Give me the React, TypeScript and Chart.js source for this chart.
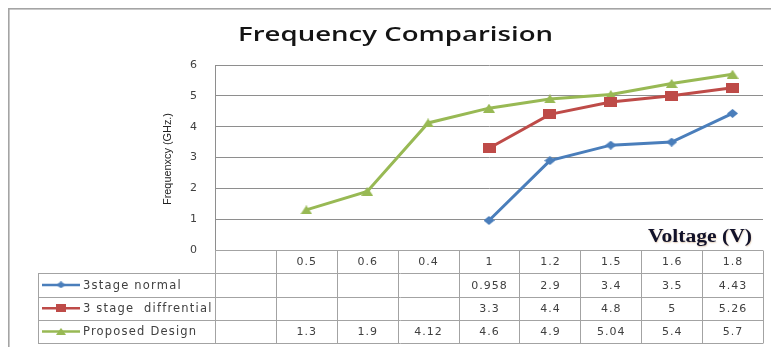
import { useEffect, useRef } from "react";
import { Chart, registerables } from "chart.js";

Chart.register(...registerables);

// Supply voltages along the category axis (the first column is left blank)
const voltages = ["", "0.5", "0.6", "0.4", "1", "1.2", "1.5", "1.6", "1.8"];

// Oscillation frequency in GHz for each design
const normal3Stage = [null, null, null, null, 0.958, 2.9, 3.4, 3.5, 4.43];
const differential3Stage = [null, null, null, null, 3.3, 4.4, 4.8, 5, 5.26];
const proposedDesign = [null, 1.3, 1.9, 4.12, 4.6, 4.9, 5.04, 5.4, 5.7];

const seriesNames = ["3stage normal", "3 stage  diffrential", "Proposed Design"];
const yTickValues = [0, 1, 2, 3, 4, 5, 6];

const chartTitle = "Frequency Comparision";
const yAxisTitle = "Frequenxcy (GHz.)";
const xAxisTitle = "Voltage (V)";

const BLUE = "#4a7ebb";
const RED = "#be4b48";
const GREEN = "#98b954";
const GRID = "#8e8e8e";
const TABLE_LINE = "#a3a3a3";
const TEXT = "#404040";

type Shape = "diamond" | "square" | "triangle";

function makeMarker(shape: Shape, color: string, w: number, h: number) {
  const c = document.createElement("canvas");
  c.width = w;
  c.height = h;
  const g = c.getContext("2d")!;
  g.fillStyle = color;
  g.beginPath();
  if (shape === "diamond") {
    g.moveTo(w / 2, 0);
    g.lineTo(w, h / 2);
    g.lineTo(w / 2, h);
    g.lineTo(0, h / 2);
  } else if (shape === "square") {
    g.rect(0, 0, w, h);
  } else {
    g.moveTo(w / 2, 0);
    g.lineTo(w, h);
    g.lineTo(0, h);
  }
  g.closePath();
  g.fill();
  return c;
}

// Draws text squeezed or stretched horizontally to a given width
function drawFitted(
  ctx: CanvasRenderingContext2D,
  text: string,
  cx: number,
  baseline: number,
  width: number
) {
  const w = ctx.measureText(text).width;
  ctx.save();
  ctx.translate(cx, baseline);
  ctx.scale(width / w, 1);
  ctx.textAlign = "center";
  ctx.textBaseline = "alphabetic";
  ctx.fillText(text, 0, 0);
  ctx.restore();
}

const series = [
  { name: seriesNames[0], data: normal3Stage, color: BLUE, shape: "diamond" as Shape, pw: 11, ph: 9, lw: 9, lh: 7 },
  { name: seriesNames[1], data: differential3Stage, color: RED, shape: "square" as Shape, pw: 13, ph: 10, lw: 10, lh: 8 },
  { name: seriesNames[2], data: proposedDesign, color: GREEN, shape: "triangle" as Shape, pw: 12, ph: 9, lw: 10, lh: 7 },
];

const framePlugin = {
  id: "frameAndTable",
  afterDraw(chart: Chart) {
    const ctx = chart.ctx;
    const a = chart.chartArea;
    const x = chart.scales.x;
    const n = voltages.length;
    const colW = (a.right - a.left) / n;
    const rowH = 23.25;
    const rows = [0, 1, 2, 3, 4].map((i) => a.bottom + i * rowH);
    const legendLeft = 38;
    const px = (v: number) => Math.round(v) + 0.5;

    ctx.save();

    // outer frame
    ctx.fillStyle = "#a4a4a4";
    ctx.fillRect(8, 8, 763, 1.6);
    ctx.fillRect(8, 8, 1.6, 339);

    // title
    ctx.fillStyle = "#141414";
    ctx.font = "600 19px 'Open Sans'";
    drawFitted(ctx, chartTitle, 395.5, 41, 315);

    // y axis title
    ctx.save();
    ctx.translate(171, 159);
    ctx.rotate(-Math.PI / 2);
    ctx.fillStyle = "#222";
    ctx.font = "11px 'Liberation Sans'";
    drawFitted(ctx, yAxisTitle, 0, 0, 92);
    ctx.restore();

    // x axis title
    ctx.save();
    ctx.fillStyle = "#12122a";
    ctx.shadowColor = "rgba(170,110,40,0.35)";
    ctx.shadowBlur = 1.5;
    ctx.shadowOffsetX = 0.5;
    ctx.shadowOffsetY = 0.5;
    ctx.font = "bold 18px 'Liberation Serif'";
    drawFitted(ctx, xAxisTitle, 700, 242, 104);
    ctx.restore();

    // data table grid
    ctx.strokeStyle = TABLE_LINE;
    ctx.lineWidth = 1;
    ctx.beginPath();
    rows.forEach((r, i) => {
      ctx.moveTo(i === 0 ? a.left : legendLeft, px(r));
      ctx.lineTo(a.right, px(r));
    });
    for (let k = 0; k <= n; k++) {
      const vx = px(a.left + k * colW);
      ctx.moveTo(vx, px(rows[0]));
      ctx.lineTo(vx, px(rows[4]));
    }
    ctx.moveTo(px(legendLeft), px(rows[1]));
    ctx.lineTo(px(legendLeft), px(rows[4]));
    ctx.stroke();

    // table text
    ctx.fillStyle = TEXT;
    ctx.font = "11px 'DejaVu Sans'";
    (ctx as any).letterSpacing = "1px";
    ctx.textAlign = "center";
    ctx.textBaseline = "middle";
    voltages.forEach((v, i) => {
      ctx.fillText(v, x.getPixelForValue(i) + 0.5, (rows[0] + rows[1]) / 2 + 1);
    });
    series.forEach((s, r) => {
      const cy = (rows[r + 1] + rows[r + 2]) / 2 + 1;
      s.data.forEach((v, i) => {
        if (v !== null) ctx.fillText(String(v), x.getPixelForValue(i) + 0.5, cy);
      });
    });

    // legend keys inside the table
    series.forEach((s, r) => {
      const cy = (rows[r + 1] + rows[r + 2]) / 2;
      ctx.strokeStyle = s.color;
      ctx.lineWidth = 2.5;
      ctx.beginPath();
      ctx.moveTo(42, cy);
      ctx.lineTo(80, cy);
      ctx.stroke();
      const m = makeMarker(s.shape, s.color, s.lw, s.lh);
      ctx.drawImage(m, 61 - s.lw / 2, cy - s.lh / 2);
      ctx.fillStyle = TEXT;
      ctx.font = "11.5px 'DejaVu Sans'";
      (ctx as any).letterSpacing = "1.2px";
      ctx.textAlign = "left";
      ctx.textBaseline = "middle";
      ctx.fillText(s.name, 83, cy + 1);
    });
    (ctx as any).letterSpacing = "0px";
    ctx.restore();
  },
};

export default function App() {
  const canvasRef = useRef<HTMLCanvasElement | null>(null);

  useEffect(() => {
    const canvas = canvasRef.current;
    if (!canvas) return;
    const chart = new Chart(canvas, {
      type: "line",
      data: {
        labels: voltages,
        datasets: series.map((s) => ({
          label: s.name,
          data: s.data,
          borderColor: s.color,
          backgroundColor: s.color,
          borderWidth: 3,
          pointStyle: makeMarker(s.shape, s.color, s.pw, s.ph),
          pointRadius: 5,
          pointHoverRadius: 5,
          tension: 0,
          spanGaps: false,
        })),
      },
      options: {
        responsive: false,
        animation: false,
        devicePixelRatio: 1,
        layout: { padding: { left: 175, top: 65, right: 8, bottom: 97 } },
        plugins: {
          legend: { display: false },
          title: { display: false },
          tooltip: { enabled: false },
        },
        scales: {
          x: {
            type: "category",
            display: false,
            offset: true,
          },
          y: {
            min: 0,
            max: 6,
            afterFit: (scale: any) => {
              scale.width = 40;
            },
            afterBuildTicks: (scale: any) => {
              scale.ticks = yTickValues.map((v) => ({ value: v }));
            },
            ticks: {
              padding: 18,
              color: TEXT,
              font: { family: "'DejaVu Sans'", size: 11 },
            },
            grid: { color: GRID, lineWidth: 1, drawTicks: false },
            border: { display: true, color: GRID, width: 1 },
          },
        },
      },
      plugins: [framePlugin],
    });
    return () => chart.destroy();
  }, []);

  return (
    <div style={{ position: "absolute", left: 0, top: 0, width: 771, height: 347, background: "#fff" }}>
      <canvas ref={canvasRef} width={771} height={347} />
    </div>
  );
}
